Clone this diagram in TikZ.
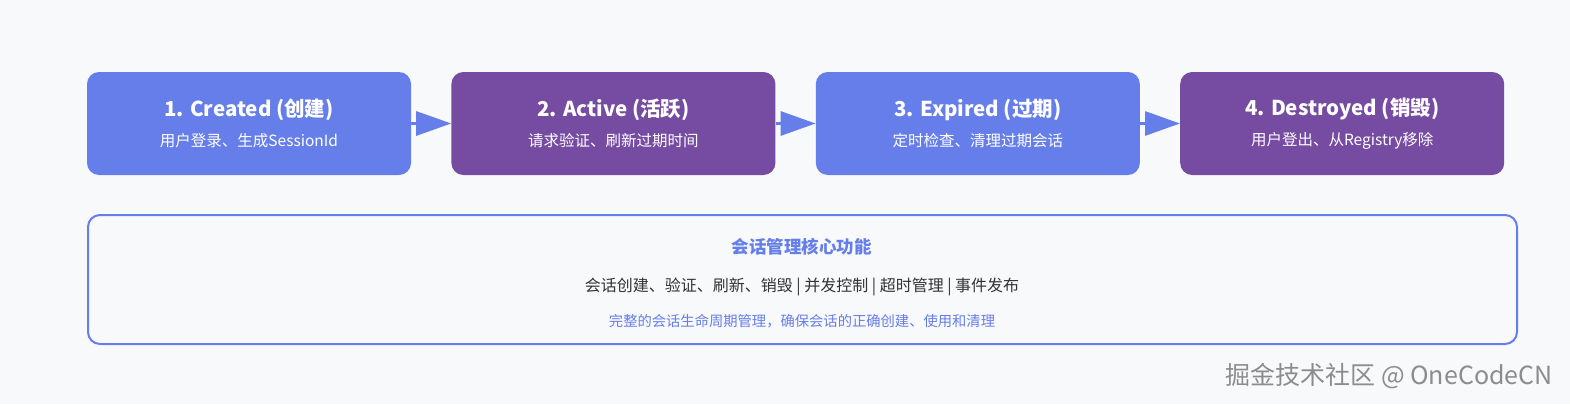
\documentclass[tikz,border=0pt]{standalone}
\usepackage{fontspec}
\setmainfont{Noto Sans CJK SC}
\usetikzlibrary{positioning,arrows.meta}

\definecolor{bluebox}{HTML}{667EEA}
\definecolor{purplebox}{HTML}{764BA2}
\definecolor{pagebg}{HTML}{F8F9FB}
\definecolor{bodytext}{HTML}{333333}
\definecolor{markgray}{HTML}{8C8C8C}

\newcommand{\statetext}[2]{{\fontsize{20.5}{24}\selectfont\bfseries #1}\\[12pt]{\fontsize{15.5}{18}\selectfont #2}}

\begin{document}
\begin{tikzpicture}[
			x=1pt,y=-1pt,
			node distance=40pt,
			state/.style={
					draw=none,
					rounded corners=12pt,
					align=center,
					text=white,
					minimum width=324pt,
					minimum height=103pt,
					inner sep=0pt
				},
			panel/.style={
					draw=bluebox,
					line width=2pt,
					rounded corners=12pt,
					fill=pagebg,
					minimum width=1429pt,
					minimum height=129pt
				},
			flow/.style={
					-{Triangle[length=35pt,width=24pt]},
					line width=3pt,
					draw=bluebox
				}
		]

		\fill[pagebg] (0,0) rectangle (1570,404);
		\useasboundingbox (0,0) rectangle (1570,404);

		% session states
		\node[state,fill=bluebox] (created) at (249,123.5)
		{\statetext{1. Created (创建)}{用户登录、生成SessionId}};

		\node[state,fill=purplebox,right=of created] (active)
		{\statetext{2. Active (活跃)}{请求验证、刷新过期时间}};

		\node[state,fill=bluebox,right=of active] (expired)
		{\statetext{3. Expired (过期)}{定时检查、清理过期会话}};

		\node[state,fill=purplebox,right=of expired] (destroyed)
		{\statetext{4. Destroyed (销毁)}{用户登出、从Registry移除}};

		\draw[flow] (created)--(active);
		\draw[flow] (active)--(expired);
		\draw[flow] (expired)--(destroyed);

		% core features
		\node[panel,anchor=north west] (core) at (87,214) {};

		\node[text=bluebox,font=\fontsize{17.5}{20}\selectfont\bfseries] (coretitle) at (801.5,247)
		{会话管理核心功能};
		\node[text=bodytext,font=\fontsize{16}{19}\selectfont] (corelist) at (802,287)
		{会话创建、验证、刷新、销毁 | 并发控制 | 超时管理 | 事件发布};
		\node[text=bluebox,font=\fontsize{14.3}{17}\selectfont] (corenote) at (802,321)
		{完整的会话生命周期管理，确保会话的正确创建、使用和清理};

		\node[text=markgray,font=\fontsize{25}{29}\selectfont,anchor=west] (mark) at (1222,376)
		{掘金技术社区 @ OneCodeCN};

	\end{tikzpicture}
\end{document}
